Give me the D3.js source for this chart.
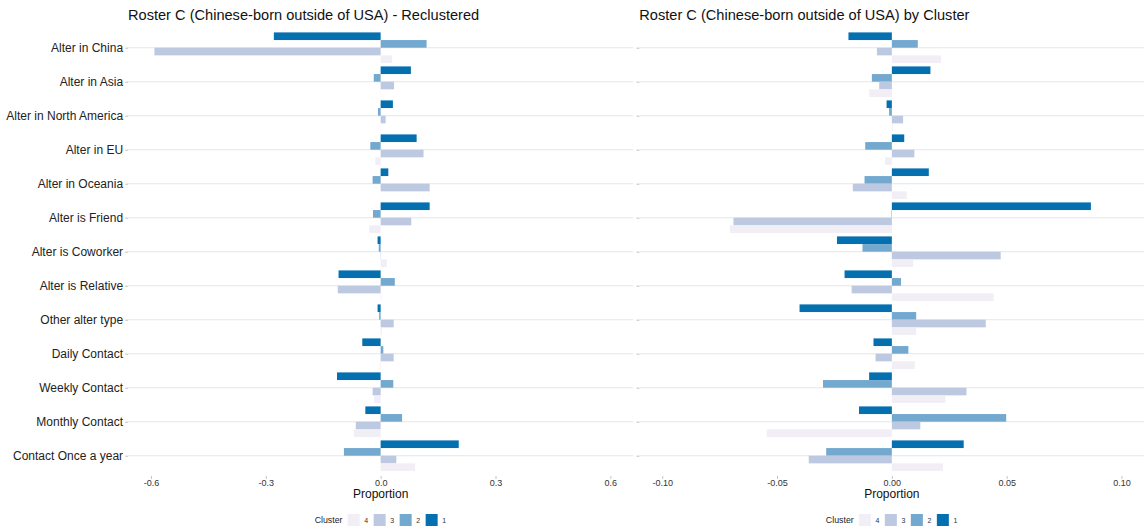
<!DOCTYPE html>
<html>
<head>
<meta charset="utf-8">
<script src="https://cdn.jsdelivr.net/npm/d3@7"></script>
<style>
  html, body { margin: 0; padding: 0; background: #fff; }
  svg { display: block; font-family: "Liberation Sans", Arial, Helvetica, sans-serif; }
</style>
</head>
<body>
<svg id="chart" width="1144" height="529"></svg>
<script>
// Categories (top to bottom) and cluster keys
const categories = [
  "Alter in China", "Alter in Asia", "Alter in North America", "Alter in EU",
  "Alter in Oceania", "Alter is Friend", "Alter is Coworker", "Alter is Relative",
  "Other alter type", "Daily Contact", "Weekly Contact", "Monthly Contact",
  "Contact Once a year"
];
const clusters = ["1", "2", "3", "4"];
const legendOrder = ["4", "3", "2", "1"];
const clusterColors = ["#0570b0", "#74a9cf", "#bdc9e1", "#f1eef6"];

// Reclustered proportions, one array per cluster
const reclust1 = [-0.279, 0.079, 0.032, 0.094, 0.020, 0.128, -0.008, -0.110, -0.008, -0.048, -0.114, -0.040, 0.204];
const reclust2 = [0.120, -0.018, -0.007, -0.027, -0.021, -0.020, -0.005, 0.037, -0.004, 0.007, 0.033, 0.056, -0.096];
const reclust3 = [-0.591, 0.035, 0.013, 0.112, 0.128, 0.080, 0.001, -0.112, 0.034, 0.034, -0.021, -0.065, 0.041];
const reclust4 = [0.030, 0.001, 0.001, -0.014, 0.000, -0.030, 0.016, 0.002, 0.003, -0.002, -0.017, -0.070, 0.090];

// Proportions by original cluster, one array per cluster
const byCluster1 = [-0.0189, 0.0168, -0.0023, 0.0054, 0.0161, 0.0867, -0.0239, -0.0206, -0.0402, -0.0080, -0.0099, -0.0143, 0.0313];
const byCluster2 = [0.0113, -0.0087, -0.0012, -0.0116, -0.0119, -0.0002, -0.0128, 0.0040, 0.0106, 0.0072, -0.0300, 0.0498, -0.0286];
const byCluster3 = [-0.0065, -0.0055, 0.0049, 0.0098, -0.0170, -0.0690, 0.0474, -0.0175, 0.0409, -0.0071, 0.0325, 0.0124, -0.0362];
const byCluster4 = [0.0214, -0.0099, 0.0004, -0.0030, 0.0065, -0.0706, 0.0093, 0.0443, 0.0106, 0.0100, 0.0233, -0.0545, 0.0223];

// Axis ticks
const leftTicks = [-0.6, -0.3, 0.0, 0.3, 0.6];
const rightTicks = [-0.10, -0.05, 0.00, 0.05, 0.10];

const titles = [
  "Roster C (Chinese-born outside of USA) - Reclustered",
  "Roster C (Chinese-born outside of USA) by Cluster"
];

const locale = d3.formatLocale({ decimal: ".", thousands: ",", grouping: [3], currency: ["", ""], minus: "-" });

const svg = d3.select("#chart");
const color = d3.scaleOrdinal().domain(clusters).range(clusterColors);

const y = d3.scalePoint().domain(categories).range([27.3, 476.1]).padding(0.6);
const step = y.step();
const sub = d3.scaleBand().domain(clusters).range([-0.45 * step, 0.45 * step]);

function toRows(seriesList) {
  const rows = [];
  categories.forEach((c, i) => {
    clusters.forEach((k, j) => rows.push({ cat: c, cluster: k, value: seriesList[j][i] }));
  });
  return rows;
}

function panel(cfg) {
  const x = d3.scaleLinear().domain(cfg.domain).range(cfg.range);
  const g = svg.append("g");

  // horizontal grid lines at each category
  g.append("g").selectAll("line").data(categories).join("line")
    .attr("x1", cfg.range[0]).attr("x2", cfg.range[1])
    .attr("y1", d => y(d)).attr("y2", d => y(d))
    .attr("stroke", "#e6e6e6").attr("stroke-width", 1.1);

  // bars
  g.append("g").selectAll("rect").data(toRows(cfg.series)).join("rect")
    .attr("x", d => Math.min(x(0), x(d.value)))
    .attr("width", d => Math.abs(x(d.value) - x(0)))
    .attr("y", d => y(d.cat) + sub(d.cluster))
    .attr("height", sub.bandwidth())
    .attr("fill", d => color(d.cluster));

  // y axis
  const yAxis = g.append("g").attr("transform", `translate(${cfg.range[0]},0)`)
    .call(d3.axisLeft(y).tickSize(2.75).tickPadding(2.2).tickFormat(cfg.showLabels ? d => d : () => ""));
  yAxis.select(".domain").remove();
  yAxis.selectAll(".tick line").attr("stroke", "#b0b0b0").attr("stroke-width", 0.8);
  yAxis.selectAll(".tick text").attr("fill", "#222").style("font-size", "12px")
    .style("font-family", "'Liberation Sans', Arial, sans-serif");

  // x axis
  const xAxis = g.append("g").attr("transform", "translate(0,476.1)")
    .call(d3.axisBottom(x).tickValues(cfg.ticks).tickSize(2.75).tickPadding(1.2).tickFormat(locale.format(cfg.fmt)));
  xAxis.select(".domain").remove();
  xAxis.selectAll(".tick line").attr("stroke", "#b0b0b0").attr("stroke-width", 0.8);
  xAxis.selectAll(".tick text").attr("fill", "#333").style("font-size", "9px")
    .style("font-family", "'Liberation Sans', Arial, sans-serif");

  const cx = (cfg.range[0] + cfg.range[1]) / 2;

  // axis title
  g.append("text").attr("x", cx).attr("y", 498.3).attr("text-anchor", "middle")
    .attr("fill", "#111").style("font-size", "12px").text("Proportion");

  // panel title
  g.append("text").attr("x", cfg.range[0]).attr("y", 20).attr("fill", "#111")
    .style("font-size", "14.6px").text(cfg.title);

  // legend
  const lg = g.append("g").attr("transform", `translate(${cx - 66},520)`);
  lg.append("text").attr("x", 0).attr("y", 3.2).attr("fill", "#222").style("font-size", "8.8px").text("Cluster");
  legendOrder.forEach((k, i) => {
    const kx = 33 + i * 26;
    lg.append("rect").attr("x", kx).attr("y", -6).attr("width", 12).attr("height", 12).attr("fill", color(k));
    lg.append("text").attr("x", kx + 18.5).attr("y", 2.6).attr("text-anchor", "middle")
      .attr("fill", "#333").style("font-size", "7px").text(k);
  });
}

panel({
  domain: [-0.66, 0.66], range: [128, 633.3], ticks: leftTicks, fmt: ".1f",
  series: [reclust1, reclust2, reclust3, reclust4], title: titles[0], showLabels: true
});
panel({
  domain: [-0.11, 0.11], range: [639.3, 1144.4], ticks: rightTicks, fmt: ".2f",
  series: [byCluster1, byCluster2, byCluster3, byCluster4], title: titles[1], showLabels: false
});
</script>
</body>
</html>
